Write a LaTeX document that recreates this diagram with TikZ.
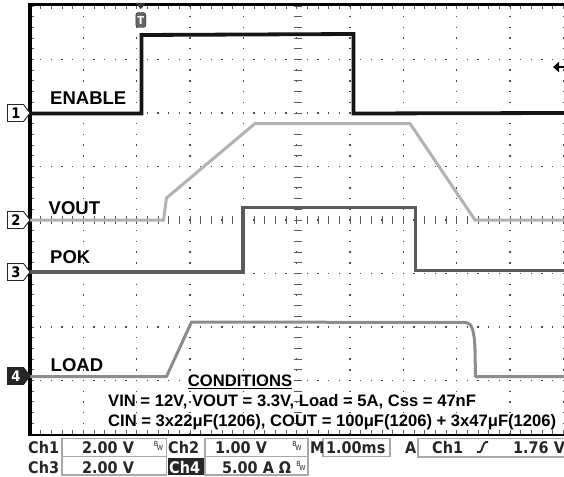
\documentclass[tikz,border=0pt]{standalone}
\usepackage{fontspec}
\usepackage{tikz}
\usepackage{tkz-euclide}
\usetikzlibrary{calc}
\usetikzlibrary{arrows.meta}
\setmainfont{Liberation Sans}
\newfontfamily\scopefont[FakeStretch=0.9]{DejaVu Sans}
\definecolor{enablecol}{HTML}{151515}
\definecolor{voutcol}{HTML}{B2B2B2}
\definecolor{pokcol}{HTML}{5A5A5A}
\definecolor{loadcol}{HTML}{8C8C8C}
\definecolor{boxcol}{HTML}{A8A8A8}
\definecolor{barcol}{HTML}{262626}
\tikzset{
    hdots/.style={line width=1.4pt,dash pattern=on 1.4pt off 9.267pt,dash phase=0.7pt,color=black!70},
    vdots/.style={line width=1.4pt,dash pattern=on 1.4pt off 9.3pt,dash phase=0.7pt,color=black!70},
    axistick/.style={line width=0.9pt,color=black!65},
    enabletrace/.style={line width=3.8pt,color=enablecol},
    vouttrace/.style={line width=3pt,color=voutcol},
    poktrace/.style={line width=3.2pt,color=pokcol},
    loadtrace/.style={line width=3pt,color=loadcol,line join=round},
    tracelabel/.style={font=\bfseries\fontsize{18.5}{18.5}\selectfont,inner sep=0pt,anchor=base west},
    condtext/.style={font=\bfseries\fontsize{16.6}{16.6}\selectfont,inner sep=0pt,anchor=base west},
    bartext/.style={font=\scopefont\bfseries\fontsize{16}{16}\selectfont,text=barcol,inner sep=0pt,anchor=base west},
    readbox/.style={draw=boxcol,line width=1.3pt},
    chanmark/.style={draw=black!85,line width=0.9pt},
    marktext/.style={font=\scopefont\bfseries\fontsize{14.5}{14.5}\selectfont,inner sep=0pt},
    bwmark/.style={font=\scopefont\fontsize{7}{7}\selectfont,text=barcol,inner sep=0pt}
}

\begin{document}
\begin{tikzpicture}[x=1pt,y=-1pt]
                \fill[white] (0,0) rectangle (564,476);
                \useasboundingbox (0,0) rectangle (564,476);

                \foreach \k in {1,...,7} \draw[hdots] (30,{6+\k*53.5}) -- (564,{6+\k*53.5});
                \foreach \k in {1,...,10} \draw[vdots] ({30+\k*53.333},6) -- ({30+\k*53.333},434);
                \foreach \i in {0,...,50} \draw[axistick] ({30+\i*10.667},216) -- ++(0,8);
                \foreach \j in {0,...,40} \draw[axistick] (294,{6+\j*10.7}) -- ++(8,0);
                \foreach \i in {0,...,50} \draw[axistick] ({30+\i*10.667},5) -- ++(0,4);
                \foreach \i in {0,...,50} \draw[axistick] ({30+\i*10.667},434) -- ++(0,-4);
                \foreach \j in {0,...,40} \draw[axistick] (30,{6+\j*10.7}) -- ++(4,0);
                \draw[line width=3.4pt] (564,4.5) -- (30,4.5) -- (30,435.5);
                \draw[line width=2pt] (30,434.5) -- (564,434.5);

                \tkzDefPoint(30,113.5){E1}
                \tkzDefPoint(141.5,113.5){E2}
                \tkzDefPoint(141.5,35){E3}
                \tkzDefPoint(353.5,34){E4}
                \tkzDefPoint(353.5,113.5){E5}
                \tkzDefPoint(564,113){E6}
                \tkzDrawPolySeg[enabletrace](E1,E2,E3,E4,E5,E6)

                \tkzDefPoint(30,220){V1}
                \tkzDefPoint(163.5,220){V2}
                \tkzDefPoint(166.5,198){V3}
                \tkzDefPoint(255,123.5){V4}
                \tkzDefPoint(410,123.5){V5}
                \tkzDefPoint(475,220){V6}
                \tkzDefPoint(564,220){V7}
                \tkzDrawPolySeg[vouttrace](V1,V2,V3,V4,V5,V6,V7)

                \tkzDefPoint(30,272){P1}
                \tkzDefPoint(243,272){P2}
                \tkzDefPoint(243,207.5){P3}
                \tkzDefPoint(415.5,207.5){P4}
                \tkzDefPoint(415.5,270.5){P5}
                \tkzDefPoint(564,270.5){P6}
                \tkzDrawPolySeg[poktrace](P1,P2,P3,P4,P5,P6)

                \tkzDefPoint(30,376.5){L1}
                \tkzDefPoint(166.5,376.5){L2}
                \tkzDefPoint(191.5,322){L3}
                \tkzDefPoint(466,322.5){L4}
                \tkzDefPoint(475.5,376.5){L5}
                \tkzDefPoint(564,376.5){L6}
                \draw[loadtrace] (L1) -- (L2) -- (L3) -- (L4) .. controls (472,322.5) and (474.5,332) .. (475,350) -- (L5) -- (L6);

                \foreach \y/\n in {113/1,220/2,272/3} {
                    \draw[chanmark,fill=white] (7.5,\y-8.5) -- (23.5,\y-8.5) -- (30,\y) -- (23.5,\y+8.5) -- (7.5,\y+8.5) -- cycle;
                    \node[marktext] (mark\n) at (15.8,\y) {\n};
                }
                \draw[chanmark,fill=black!85] (7.5,367.5) -- (23.5,367.5) -- (30,376) -- (23.5,384.5) -- (7.5,384.5) -- cycle;
                \node[marktext,text=white] (mark4) at (15.8,376) {4};

                \fill[black!80] (135.5,3) -- (146,3) -- (140.8,9) -- cycle;
                \node[draw=black!85,fill=black!60,rounded corners=2.5pt,minimum width=10pt,minimum height=15pt,inner sep=0pt,
                      font=\scopefont\bfseries\fontsize{11}{11}\selectfont,text=white] (trig) at (140.8,20) {T};

                \coordinate (lvlR) at (564,67);
                \coordinate (lvlL) at (553,67);
                \draw[line width=2pt,-{Triangle[length=6pt,width=10pt]}] (lvlR) -- (lvlL);

                \node[tracelabel] (enable) at (50,105) {ENABLE};
                \node[tracelabel] (vout) at (48.5,214) {VOUT};
                \node[tracelabel] (pok) at (50,263) {POK};
                \node[tracelabel] (load) at (50.5,371) {LOAD};

                \node[condtext,anchor=base] (cond) at (240,386.5) {\underline{CONDITIONS}};
                \node[condtext] (vin) at (108,406.5) {VIN = 12V, VOUT = 3.3V, Load = 5A, Css = 47nF};
                \node[condtext] (cin) at (108,426.5) {CIN = 3x22μF(1206), COUT = 100μF(1206) + 3x47μF(1206)};

                \draw[readbox] (62,438.5) rectangle (166.5,456.5);
                \draw[readbox] (62,456.5) rectangle (166.5,475);
                \draw[readbox] (205,438.5) rectangle (308,456.5);
                \draw[readbox] (205,456.5) rectangle (308,475);
                \draw[readbox] (323,438.5) rectangle (390,456.5);
                \draw[readbox] (418,438.5) rectangle (567,457);
                \fill[barcol] (168,458) rectangle (203.5,475);

                \node[bartext] (ch1) at (28,453) {Ch1};
                \node[bartext] (ch1v) at (82,453) {2.00 V};
                \node[bwmark] (bw1) at (158.5,446) {\raisebox{2pt}{B}\kern-1.5pt\raisebox{-2pt}{W}};
                \node[bartext] (ch2) at (168,453) {Ch2};
                \node[bartext] (ch2v) at (215,453) {1.00 V};
                \node[bwmark] (bw2) at (297,446) {\raisebox{2pt}{B}\kern-1.5pt\raisebox{-2pt}{W}};
                \node[bartext] (hmode) at (310,453) {M};
                \node[bartext] (hscale) at (326,453) {1.00ms};
                \node[bartext] (amode) at (405,453) {A};
                \node[bartext] (trsrc) at (432,453) {Ch1};
                \draw[line width=1.8pt,barcol] (477,452) -- (480,452) .. controls (482,452) and (483,442) .. (486,442) -- (488,442);
                \node[bartext] (trlvl) at (513,453) {1.76 V};
                \node[bartext] (ch3) at (28,473) {Ch3};
                \node[bartext] (ch3v) at (82,473) {2.00 V};
                \node[bartext,text=white] (ch4) at (169,473) {Ch4};
                \node[bartext] (ch4v) at (222,473) {5.00 A Ω};
                \node[bwmark] (bw4) at (301,466) {\raisebox{2pt}{B}\kern-1.5pt\raisebox{-2pt}{W}};
            \end{tikzpicture}
\end{document}
